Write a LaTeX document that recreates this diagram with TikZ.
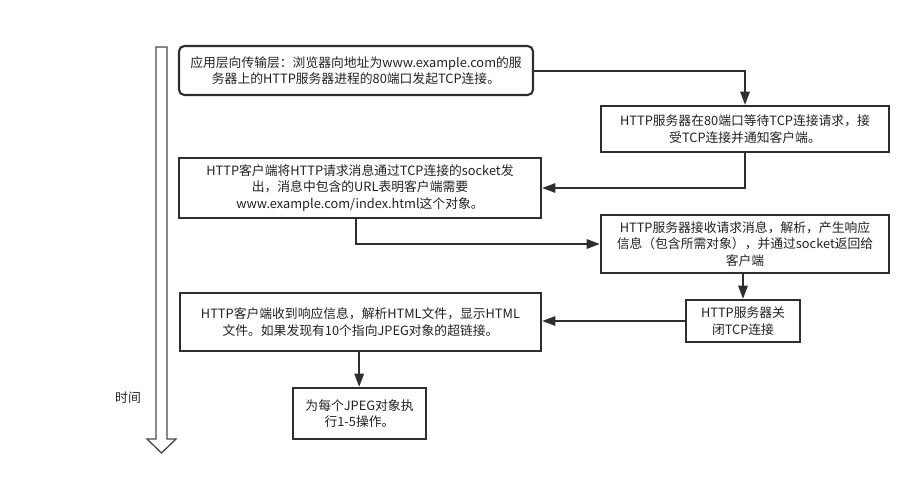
\documentclass[tikz,border=0pt]{standalone}
\usepackage{fontspec}
\setmainfont{Noto Sans CJK SC}
\usetikzlibrary{arrows.meta}
\definecolor{boxline}{HTML}{2E2E2E}
\definecolor{txt}{HTML}{222222}
\definecolor{timeline}{HTML}{4A4A4A}
\tikzset{
  x=0.75pt, y=-0.75pt,
  procbox/.style={draw=boxline, line width=1.6pt, fill=white, align=center,
    inner sep=2pt, text=txt, font=\fontsize{9.6}{12.3}\selectfont},
  conn/.style={draw=boxline, line width=1.5pt, -{Triangle[length=10pt,width=7pt]}},
}
\begin{document}
\begin{tikzpicture}
\useasboundingbox (0,0) rectangle (920,486);
% time arrow
\draw[timeline, line width=1pt, line join=miter]
  (156,47) -- (167,47) -- (167,439) -- (176,439) -- (161.5,453) -- (147,439) -- (156,439) -- cycle;
\node[text=txt, font=\fontsize{9.6}{12}\selectfont] (time) at (128,398) {时间};
% boxes
\node[procbox, rounded corners=4pt, minimum width=354*0.75pt, minimum height=49*0.75pt] (b1) at (356,70.5)
  {应用层向传输层：浏览器向地址为www.example.com的服\\务器上的HTTP服务器进程的80端口发起TCP连接。};
\node[procbox, minimum width=288*0.75pt, minimum height=46*0.75pt] (b2) at (745,129)
  {HTTP服务器在80端口等待TCP连接请求，接\\受TCP连接并通知客户端。};
\node[procbox, minimum width=362*0.75pt, minimum height=60*0.75pt] (b3) at (360,188)
  {HTTP客户端将HTTP请求消息通过TCP连接的socket发\\出，消息中包含的URL表明客户端需要\\www.example.com/index.html这个对象。};
\node[procbox, minimum width=288*0.75pt, minimum height=58*0.75pt] (b4) at (745,244)
  {HTTP服务器接收请求消息，解析，产生响应\\信息（包含所需对象），并通过socket返回给\\客户端};
\node[procbox, minimum width=114*0.75pt, minimum height=42*0.75pt] (b5) at (743,321)
  {HTTP服务器关\\闭TCP连接};
\node[procbox, minimum width=361*0.75pt, minimum height=58*0.75pt] (b6) at (360.5,322)
  {HTTP客户端收到响应信息，解析HTML文件，显示HTML\\文件。如果发现有10个指向JPEG对象的超链接。};
\node[procbox, minimum width=133*0.75pt, minimum height=51*0.75pt] (b7) at (359.5,413.5)
  {为每个JPEG对象执\\行1-5操作。};
% connectors
\draw[conn] (b1.east) -| (b2.north);
\draw[conn] (b2.south) |- (b3.east);
\draw[conn] ([xshift=-3pt]b3.south) |- (b4.west);
\draw[conn] ([xshift=-1.5pt]b4.south) -- ([xshift=-1.5pt]b4.south |- b5.north);
\draw[conn] (b5.west) -- (b5.west -| b6.east);
\draw[conn] ([xshift=-1pt]b6.south) -- ([xshift=-1pt]b6.south |- b7.north);
\end{tikzpicture}
\end{document}
